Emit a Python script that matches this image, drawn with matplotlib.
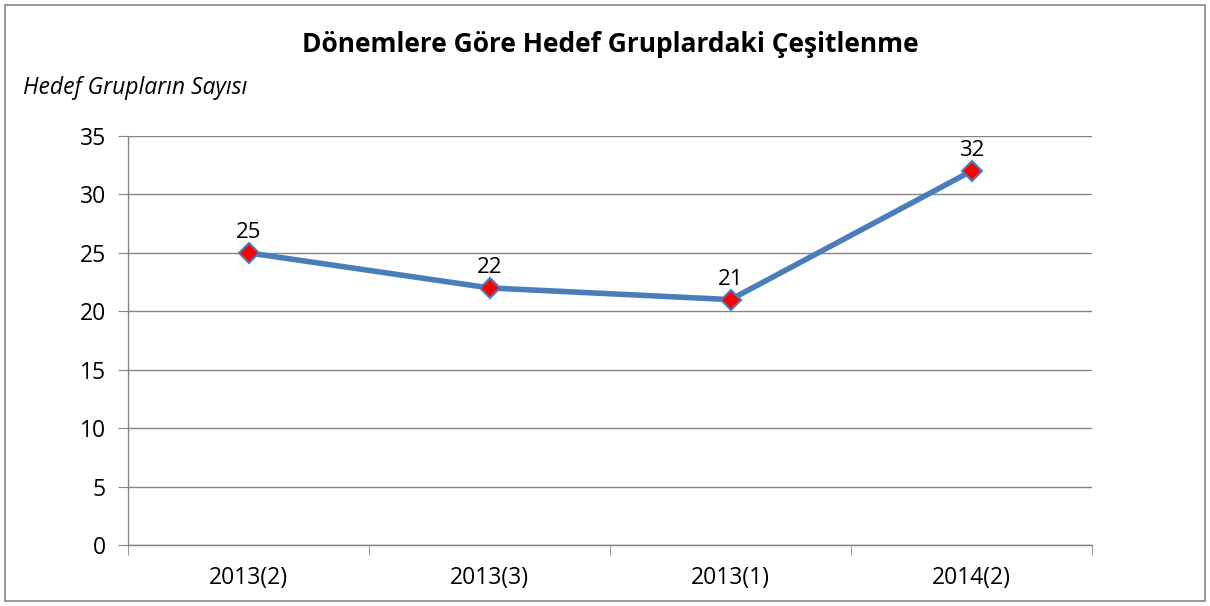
import numpy as np
import matplotlib.pyplot as plt
from matplotlib.patches import Rectangle

periods = ['2013(2)', '2013(3)', '2013(1)', '2014(2)']
counts = [25, 22, 21, 32]
y_ticks = [0, 5, 10, 15, 20, 25, 30, 35]

plt.rcParams['font.family'] = ['Open Sans', 'DejaVu Sans']

W, H = 1210, 606
fig = plt.figure(figsize=(W / 100, H / 100), dpi=100)
ax = fig.add_axes([128 / W, (H - 545) / H, (1092 - 128) / W, (545 - 136) / H])

x = np.arange(len(periods))
ax.plot(x, counts, color='#4A7EBB', linewidth=4, solid_capstyle='round', zorder=3)
ax.plot(x, counts, linestyle='none', marker='D', markersize=10,
        markerfacecolor='#FF0000', markeredgecolor='#4A7EBB', markeredgewidth=1.5, zorder=4)
for xi, v in zip(x, counts):
    ax.annotate(str(v), (xi, v), xytext=(0, 7), textcoords='offset points',
                ha='center', va='bottom', fontsize=16)

ax.set_xlim(-0.5, len(periods) - 0.5)
ax.set_ylim(0, 35)
ax.set_yticks(y_ticks)
ax.set_xticks(x)
ax.set_xticklabels(periods, fontsize=16.5)
ax.set_xticks(np.arange(-0.5, len(periods)), minor=True)
ax.tick_params(axis='x', which='major', length=0, pad=15)
ax.tick_params(axis='x', which='minor', length=7, color='#868686', direction='out')
ax.tick_params(axis='y', length=7, color='#868686', labelsize=16.5, pad=9)
ax.grid(axis='y', color='#868686', linewidth=1)
ax.set_axisbelow(True)
for s in ['top', 'right']:
    ax.spines[s].set_visible(False)
for s in ['left', 'bottom']:
    ax.spines[s].set_color('#868686')
    ax.spines[s].set_linewidth(1)

fig.text(610 / W, 1 - 45 / H, 'Dönemlere Göre Hedef Gruplardaki Çeşitlenme',
         ha='center', va='center', fontsize=19, fontweight='bold')
fig.text(23 / W, 1 - 88 / H, 'Hedef Grupların Sayısı', ha='left', va='center',
         fontsize=16.5, style='italic')

fig.patches.append(Rectangle((5 / W, 5 / H), (W - 10) / W, (H - 10) / H,
                             transform=fig.transFigure, fill=False,
                             edgecolor='#868686', linewidth=1.2))

fig.savefig('out.png', dpi=100)
